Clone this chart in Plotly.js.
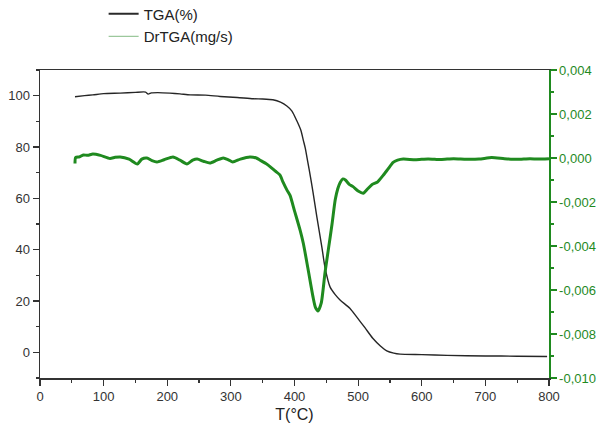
<!DOCTYPE html>
<html>
<head>
<meta charset="utf-8">
<script src="https://cdn.plot.ly/plotly-3.0.1.min.js"></script>
<style>html,body{margin:0;padding:0;background:#fff;}#chart{width:601px;height:432px;}</style>
</head>
<body>
<div id="chart"></div>
<script>
// TGA curve (temperature °C, mass %)
var tgaT = [55, 70, 83, 100, 126, 150, 166, 170, 175, 185, 204, 220, 236, 260, 283, 310, 335, 350, 366, 378, 388, 396, 404, 410, 414, 417, 421, 425, 429, 435, 443, 448, 456, 464, 472, 487, 498, 511, 523, 535, 545, 556, 566, 600, 640, 700, 750, 797];
var tgaV = [99.6, 100, 100.3, 100.8, 101, 101.3, 101.4, 100.6, 101.1, 101.2, 101, 100.7, 100.3, 100.2, 99.7, 99.3, 98.8, 98.7, 98.4, 97.5, 96, 94, 90, 86.5, 82.5, 79.5, 74, 68.5, 62.5, 53, 41, 33, 25.4, 22.5, 20.3, 17.2, 13.7, 9.5, 5.5, 2.5, 0.6, -0.3, -0.7, -0.9, -1.2, -1.4, -1.5, -1.6];

// DrTGA curve (temperature °C, mg/s)
var drT = [55, 56, 62, 68, 75, 83, 95, 110, 118, 126, 140, 153, 160, 168, 176, 184, 195, 209, 220, 231, 240, 247, 257, 267, 278, 288, 296, 303, 315, 330, 340, 346, 355, 362, 370, 377, 382, 388, 393, 400, 409, 414, 421, 429, 433, 437, 442, 448, 453, 459, 464, 468, 472, 476, 480, 486, 492, 500, 508, 515, 522, 530, 539, 547, 555, 562, 571, 590, 610, 630, 650, 670, 690, 710, 730, 750, 770, 790, 800];
var drV = [-0.00025, 0.00002, 0.00005, 0.00014, 0.00012, 0.00018, 0.00012, -0.00002, 0.00003, 0.00005, -0.00005, -0.00027, -0.00005, 0.0, -0.00012, -0.00018, -0.00008, 0.00005, -0.0001, -0.00027, -0.0001, -0.00005, -0.00015, -0.00023, -0.0001, 0.0, -0.00008, -0.00018, -0.00005, 0.00005, 0.0, -0.0001, -0.00025, -0.0004, -0.0006, -0.00077, -0.0011, -0.00145, -0.0017, -0.0024, -0.0033, -0.0039, -0.005, -0.0063, -0.0068, -0.00695, -0.0066, -0.0052, -0.0042, -0.003, -0.0019, -0.0014, -0.0011, -0.00095, -0.001, -0.0012, -0.0013, -0.0015, -0.0016, -0.0014, -0.0012, -0.0011, -0.0008, -0.0005, -0.0002, -0.0001, -0.00005, -0.00008, -0.00004, -0.00007, -0.00003, -0.00006, -0.00005, 0.00002, -0.00003, -0.00006, -0.00003, -0.00005, -0.00003];

var leftTicks = [0, 20, 40, 60, 80, 100];
var rightTickVals = [0.004, 0.002, 0.000, -0.002, -0.004, -0.006, -0.008, -0.010];
var rightTickText = ["0,004", "0,002", "0,000", "-0,002", "-0,004", "-0,006", "-0,008", "-0,010"];
var seriesNames = ["TGA(%)", "DrTGA(mg/s)"];

var green = "#1f8a1f";
var font = "Liberation Sans, Arial, sans-serif";

var traces = [
  {x: tgaT, y: tgaV, type: "scatter", mode: "lines", line: {color: "#262626", width: 1.4, shape: "spline", smoothing: 0.6}, showlegend: false, yaxis: "y"},
  {x: drT, y: drV, type: "scatter", mode: "lines", line: {color: green, width: 3, shape: "spline", smoothing: 0.6}, showlegend: false, yaxis: "y2"},
  {x: [null], y: [null], type: "scatter", mode: "lines", name: seriesNames[0], line: {color: "#2a2a2a", width: 2}, yaxis: "y"},
  {x: [null], y: [null], type: "scatter", mode: "lines", name: seriesNames[1], line: {color: "#9cc89c", width: 1.2}, yaxis: "y2"}
];

var layout = {
  width: 601, height: 432,
  margin: {l: 40, r: 52, t: 70, b: 54, autoexpand: false},
  paper_bgcolor: "#fff", plot_bgcolor: "#fff",
  font: {family: font, size: 13, color: "#333"},
  separators: ",.",
  showlegend: true,
  legend: {x: 0.125, y: 1.235, xanchor: "left", yanchor: "top", bgcolor: "rgba(0,0,0,0)", font: {size: 15, color: "#222"}, tracegroupgap: 0, itemwidth: 30},
  xaxis: {
    range: [0, 800], dtick: 100, tick0: 0,
    showgrid: false, zeroline: false,
    showline: true, linecolor: "#333", linewidth: 1.5, mirror: true,
    ticks: "outside", ticklen: 6, tickcolor: "#333", tickwidth: 1.2,
    minor: {dtick: 50, ticks: "outside", ticklen: 3, tickcolor: "#333", showgrid: false},
    tickfont: {size: 13, color: "#333"},
    title: {text: "T(°C)", font: {size: 16, color: "#222"}, standoff: 5}
  },
  yaxis: {
    range: [-10, 110], tickvals: leftTicks,
    showgrid: false, zeroline: false,
    showline: true, linecolor: "#333", linewidth: 1.5,
    ticks: "outside", ticklen: 6, tickcolor: "#333", tickwidth: 1.2,
    minor: {dtick: 10, ticks: "outside", ticklen: 3, tickcolor: "#333", showgrid: false},
    tickfont: {size: 13, color: "#333"}
  },
  yaxis2: {
    overlaying: "y", side: "right",
    range: [-0.010, 0.004], tickvals: rightTickVals, ticktext: rightTickText,
    showgrid: false, zeroline: false,
    showline: true, linecolor: green, linewidth: 1.5,
    ticks: "outside", ticklen: 6, tickcolor: green, tickwidth: 1.2,
    minor: {dtick: 0.001, ticks: "outside", ticklen: 3, tickcolor: green, showgrid: false},
    tickfont: {size: 13, color: green}
  }
};

Plotly.newPlot("chart", traces, layout, {displayModeBar: false, staticPlot: true});
</script>
</body>
</html>
